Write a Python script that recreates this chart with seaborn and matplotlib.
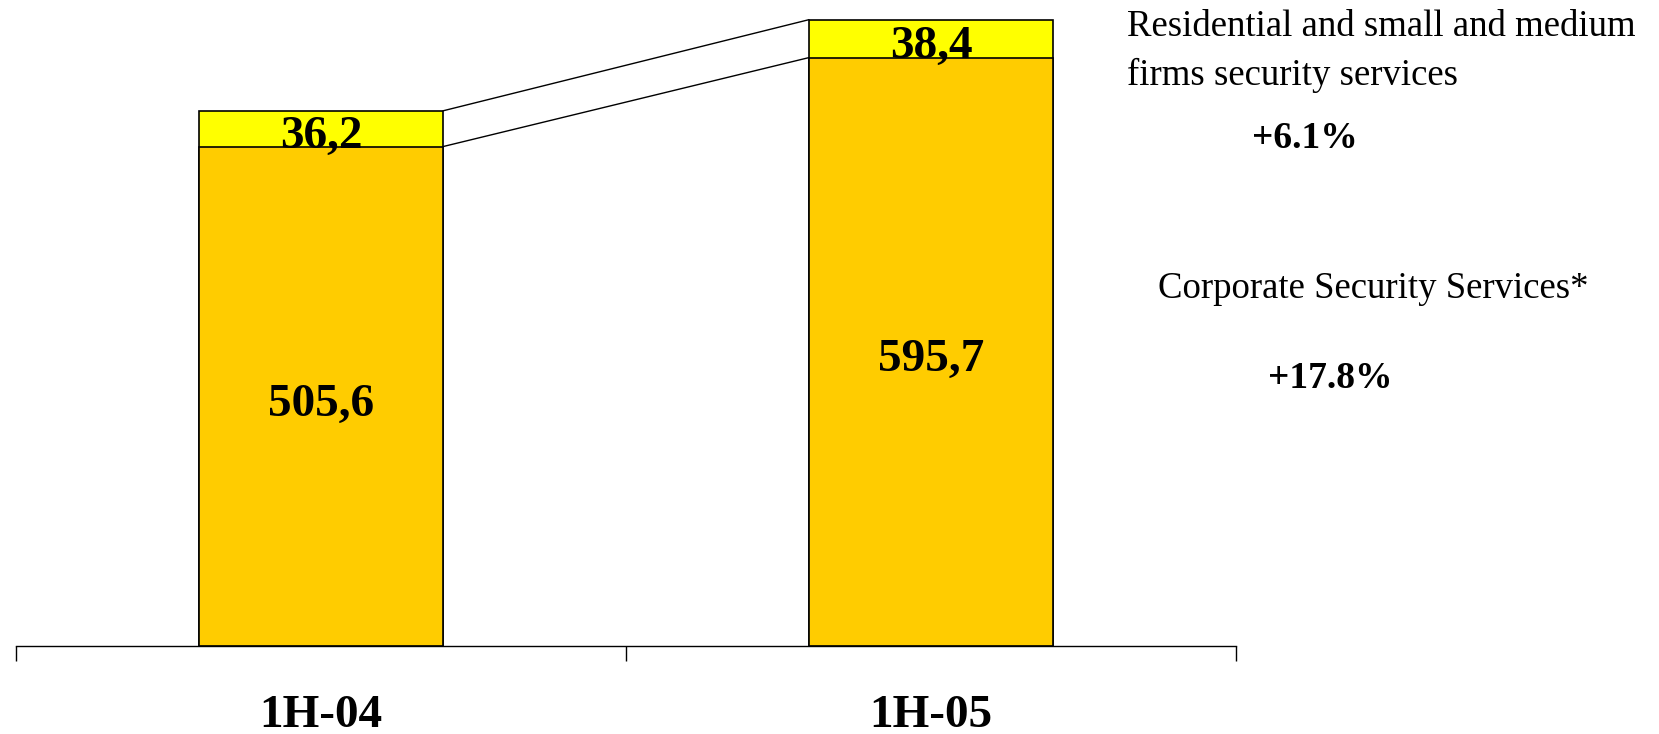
import numpy as np
import pandas as pd
import matplotlib
matplotlib.use("Agg")
import matplotlib.pyplot as plt
import seaborn as sns

# data
periods = ["1H-04", "1H-05"]
corporate = [505.6, 595.7]
residential = [36.2, 38.4]
growth_res = "+6.1%"
growth_corp = "+17.8%"
label_res = "Residential and small and medium\nfirms security services"
label_corp = "Corporate Security Services*"

totals = [c + r for c, r in zip(corporate, residential)]
df = pd.DataFrame({"period": periods, "corporate": corporate, "total": totals})

sns.set_style("white")
plt.rcParams["font.family"] = ["Liberation Serif", "DejaVu Serif"]
plt.rcParams["text.color"] = "black"

fig = plt.figure(figsize=(16.59, 7.34), dpi=100)
ax = fig.add_axes([16 / 1659, 88 / 734, 1220 / 1659, 646 / 734])

sns.barplot(data=df, x="period", y="total", color="#FFFF00", width=0.4,
            edgecolor="black", linewidth=1.2, saturation=1, ax=ax)
sns.barplot(data=df, x="period", y="corporate", color="#FFCC00", width=0.4,
            edgecolor="black", linewidth=1.2, saturation=1, ax=ax)

# connector lines between the bars
ax.plot([0.2, 0.8], [totals[0], totals[1]], color="black", lw=1)
ax.plot([0.2, 0.8], [corporate[0], corporate[1]], color="black", lw=1)

fmt = lambda v: f"{v:.1f}".replace(".", ",")
for i in range(len(periods)):
    ax.annotate(fmt(corporate[i]), (i, corporate[i] / 2), xytext=(0, -6),
                textcoords="offset points", ha="center", va="center",
                fontsize=34, fontweight="bold", color="black")
    ax.annotate(fmt(residential[i]), (i, corporate[i] + residential[i] / 2),
                xytext=(0, -6), textcoords="offset points", ha="center",
                va="center", fontsize=34, fontweight="bold", color="black")

ax.set_xlim(-0.5, 1.5)
ax.set_ylim(0, 654)
ax.set_xlabel("")
ax.set_ylabel("")
ax.set_yticks([])
ax.set_xticks([-0.5, 0.5, 1.5])
ax.set_xticklabels(["", "", ""])
ax.set_xticks([0, 1], minor=True)
ax.set_xticklabels(periods, minor=True, fontsize=34, fontweight="bold")
ax.tick_params(axis="x", which="major", length=11, width=1, color="black",
               direction="out", bottom=True)
ax.tick_params(axis="x", which="minor", length=0, pad=35, labelcolor="black")
for s in ["top", "left", "right"]:
    ax.spines[s].set_visible(False)
ax.spines["bottom"].set_color("black")
ax.spines["bottom"].set_linewidth(1)

# side annotations
fig.text(1127 / 1659, 1 - 10 / 734, label_res, ha="left", va="top",
         fontsize=26.5, linespacing=1.5)
fig.text(1305 / 1659, 1 - 148 / 734, growth_res, ha="center", va="baseline",
         fontsize=27, fontweight="bold")
fig.text(1158 / 1659, 1 - 298 / 734, label_corp, ha="left", va="baseline",
         fontsize=26.5)
fig.text(1330 / 1659, 1 - 388 / 734, growth_corp, ha="center", va="baseline",
         fontsize=27, fontweight="bold")

fig.savefig("out.png", dpi=100)
